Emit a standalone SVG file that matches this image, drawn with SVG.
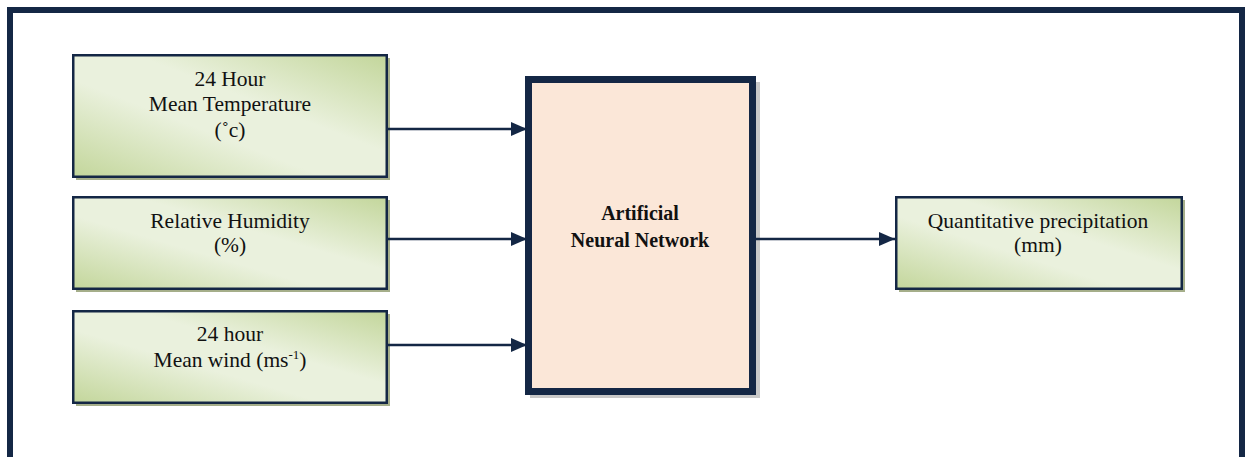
<svg xmlns="http://www.w3.org/2000/svg" width="1248" height="457" viewBox="0 0 1248 457">
<defs>
<linearGradient id="g" x1="0" y1="1" x2="1" y2="0">
<stop offset="0" stop-color="#c3d69b"/>
<stop offset="0.4" stop-color="#eaf1dd"/>
<stop offset="0.6" stop-color="#eaf1dd"/>
<stop offset="1" stop-color="#c3d69b"/>
</linearGradient>
<marker id="ah" markerWidth="16" markerHeight="14" refX="16" refY="7" orient="auto" markerUnits="userSpaceOnUse">
<path d="M0,0 L16,7 L0,14 Z" fill="#142745"/>
</marker>
<style>
.box{fill:url(#g);stroke:#142745;stroke-width:2.5}
.sh{fill:#a5ae8a}
.t{font-family:"Liberation Serif","Times New Roman",serif;font-size:21.5px;fill:#111;text-anchor:middle}
.b{font-family:"Liberation Serif","Times New Roman",serif;font-size:20px;font-weight:bold;fill:#111;text-anchor:middle}
.c{stroke:#142745;stroke-width:2.5;fill:none;marker-end:url(#ah)}
</style>
</defs>
<rect width="1248" height="457" fill="#fff"/>
<rect x="10" y="10" width="1232" height="460" fill="none" stroke="#142745" stroke-width="6"/>
<g id="n1">
<rect class="sh" x="76" y="58" width="314" height="122"/>
<rect class="box" x="73.25" y="55.25" width="313.5" height="121.5"/>
<text class="t" x="230" y="86">24 Hour</text>
<text class="t" x="230" y="111">Mean Temperature</text>
<text class="t" x="230" y="137">(˚c)</text>
</g>
<g id="n2">
<rect class="sh" x="76" y="200" width="314" height="92"/>
<rect class="box" x="73.25" y="197.25" width="313.5" height="91.5"/>
<text class="t" x="230" y="228">Relative Humidity</text>
<text class="t" x="230" y="252">(%)</text>
</g>
<g id="n3">
<rect class="sh" x="76" y="314" width="314" height="92"/>
<rect class="box" x="73.25" y="311.25" width="313.5" height="91.5"/>
<text class="t" x="230" y="341">24 hour</text>
<text class="t" x="230" y="367">Mean wind (ms<tspan font-size="13" dy="-8">-1</tspan><tspan dy="8">)</tspan></text>
</g>
<g id="ann">
<rect x="530" y="82" width="230" height="316" fill="#c8c8c8"/>
<rect x="528.5" y="79.5" width="224" height="312" fill="#fbe7d8" stroke="#142745" stroke-width="7"/>
<text class="b" x="640" y="220">Artificial</text>
<text class="b" x="640" y="247">Neural Network</text>
</g>
<g id="out">
<rect class="sh" x="899" y="200" width="286" height="92"/>
<rect class="box" x="896.25" y="197.25" width="285.5" height="91.5"/>
<text class="t" x="1038" y="228">Quantitative precipitation</text>
<text class="t" x="1038" y="252">(mm)</text>
</g>
<g id="connectors">
<line class="c" x1="387" y1="129" x2="527" y2="129"/>
<line class="c" x1="387" y1="239" x2="527" y2="239"/>
<line class="c" x1="387" y1="345" x2="527" y2="345"/>
<line class="c" x1="756" y1="239" x2="895" y2="239"/>
</g>
</svg>
